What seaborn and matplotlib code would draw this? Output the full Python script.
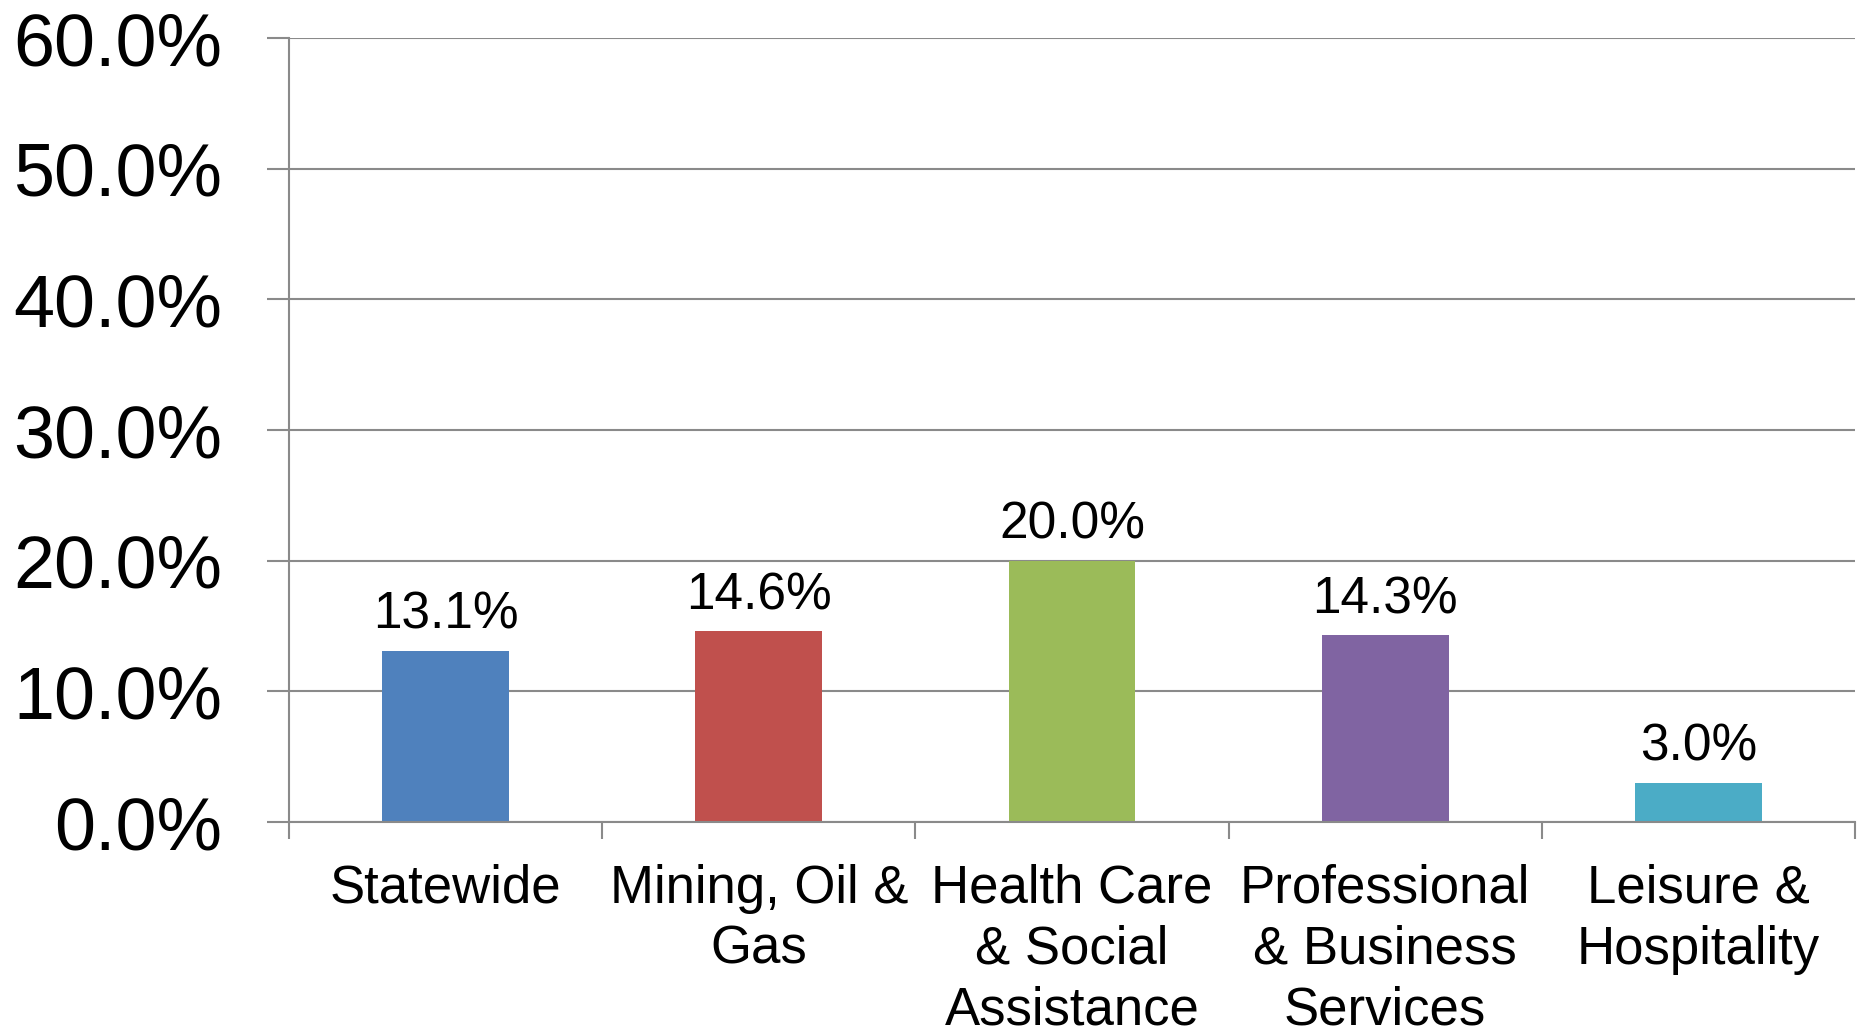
import matplotlib
matplotlib.use("Agg")
import matplotlib.pyplot as plt
import seaborn as sns
import pandas as pd
from matplotlib.ticker import FuncFormatter, FixedLocator

categories = ["Statewide", "Mining, Oil &\nGas", "Health Care\n& Social\nAssistance",
              "Professional\n& Business\nServices", "Leisure &\nHospitality"]
values = [13.1, 14.6, 20.0, 14.3, 3.0]
colors = ["#4F81BD", "#C0504D", "#9BBB59", "#8064A2", "#4BACC6"]
y_ticks = [0, 10, 20, 30, 40, 50, 60]

sns.set_style("white")
plt.rcParams['font.family'] = ['Liberation Sans', 'DejaVu Sans']
plt.rcParams['text.color'] = 'black'
plt.rcParams['xtick.labelcolor'] = 'black'
plt.rcParams['ytick.labelcolor'] = 'black'

df = pd.DataFrame({"cat": categories, "val": values})

fig = plt.figure(figsize=(18.58, 10.32), dpi=100)
ax = fig.add_axes([289/1858, 1 - 822/1032, (1855-289)/1858, (822-38)/1032])

sns.barplot(data=df, x="cat", y="val", hue="cat", palette=colors, legend=False,
            width=0.405, ax=ax, saturation=1, linewidth=0)

grid_c = "#8A8A8A"
ax.set_ylim(0, 60)
ax.set_xlim(-0.5, len(categories) - 0.5)
ax.set_yticks(y_ticks)
ax.yaxis.set_major_formatter(FuncFormatter(lambda v, p: f"{v:.1f}%"))
ax.yaxis.grid(True, color=grid_c, linewidth=1.5)
ax.set_axisbelow(True)
for s in ["top", "right"]:
    ax.spines[s].set_visible(False)
for s in ["left", "bottom"]:
    ax.spines[s].set_color(grid_c)
    ax.spines[s].set_linewidth(1.5)

ax.tick_params(axis="y", which="major", length=16, width=1.5, color=grid_c,
               labelsize=53, pad=32, direction="out", left=True, labelcolor="black")
ax.tick_params(axis="x", which="major", length=0, labelsize=38, pad=30, labelcolor="black")
ax.xaxis.set_minor_locator(FixedLocator([i - 0.5 for i in range(len(categories) + 1)]))
ax.tick_params(axis="x", which="minor", length=12, width=1.5, color=grid_c,
               direction="out", bottom=True)
for lbl in ax.get_xticklabels():
    lbl.set_linespacing(1.28)
ax.set_xlabel("")
ax.set_ylabel("")

for c in ax.containers:
    ax.bar_label(c, labels=[f"{v:.1f}%" for v in c.datavalues], fontsize=37,
                 padding=8, color="black")

fig.savefig("out.png", dpi=100, facecolor="white")
